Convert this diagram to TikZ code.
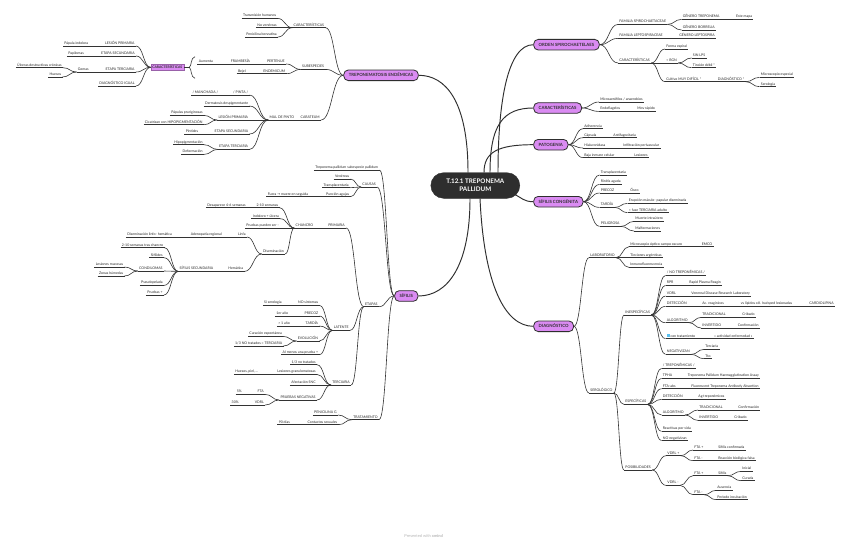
\documentclass[tikz,border=0pt]{standalone}
\usepackage{fontspec}
\setmainfont{Lato}
\newfontfamily\symfont{DejaVu Sans}
\usetikzlibrary{calc}
\definecolor{txt}{HTML}{262626}
\definecolor{lnc}{HTML}{333333}
\definecolor{vio}{HTML}{DA8BF2}
\definecolor{dark}{HTML}{2E2E2E}
\definecolor{iconblue}{HTML}{5BC0F0}
\definecolor{wm}{HTML}{B5B5B5}
\newcommand\leaffont{\fontsize{3.5}{4.1}\selectfont}
\newcommand\rn[4]{\node[leaf,anchor=south west] (#1) at (#2,#3) {#4}; \draw[ul] (#1.south west) -- (#1.south east);}
\newcommand\lnn[4]{\node[leaf,anchor=south east] (#1) at (#2,#3) {#4}; \draw[ul] (#1.south west) -- (#1.south east);}
\newcommand\cn[2]{\draw[ul] let \p1=(#1), \p2=(#2), \p3=($(\p1)!0.5!(\p2)$) in (\p1) .. controls (\x3,\y1) and (\x3,\y2) .. (\p2);}
\newcommand\cR[2]{\cn{#1.south east}{#2.south west}}
\newcommand\cL[2]{\cn{#1.south west}{#2.south east}}
\tikzset{
 leaf/.style={font=\leaffont, text=txt, inner xsep=1.2pt, inner ysep=0.5pt, text height=2.6pt, text depth=0.8pt},
 ul/.style={draw=lnc, line width=0.6pt},
 mainln/.style={draw=dark, line width=0.95pt},
 topic/.style={draw=dark, line width=0.8pt, fill=vio, rounded corners=4.5pt, font=\fontsize{4.3}{5}\selectfont\bfseries, text=dark, inner xsep=5pt, inner ysep=0pt, text height=3.2pt, text depth=0pt, minimum height=10.6pt},
 hub/.style={fill=dark, draw=dark, text=white, rounded corners=12.8pt, minimum width=89pt, minimum height=25.6pt, font=\fontsize{6.3}{7.6}\selectfont\bfseries, align=center},
 summ/.style={fill=vio, draw=vio!70!black, line width=0.3pt, font=\fontsize{3.4}{4}\selectfont\bfseries, text=dark, inner xsep=1.5pt, inner ysep=0.8pt, minimum height=6pt},
}
\begin{document}
\begin{tikzpicture}[x=1pt,y=-1pt]
\fill[white] (0,0) rectangle (848,543);
\useasboundingbox (0,0) rectangle (848,543);

% centre and main topics
\node[hub] (C) at (475.3,185.5) {T.12.1 TREPONEMA\\PALLIDUM};
\node[topic,anchor=west] (O) at (533.3,44.7) {ORDEN SPIROCHAETELAES};
\node[topic,anchor=west] (K) at (533.3,108) {CARACTERÍSTICAS};
\node[topic,anchor=west] (P) at (533.3,144.7) {PATOGENIA};
\node[topic,anchor=west] (SC) at (533.3,201.7) {SÍFILIS CONGÉNITA};
\node[topic,anchor=west] (D) at (533.3,326.3) {DIAGNÓSTICO};
\node[topic,anchor=east] (T) at (418.7,75.3) {TREPONEMATOSIS ENDÉMICAS};
\node[topic,anchor=east] (S) at (418.3,296) {SÍFILIS};

\draw[mainln] ([xshift=22.7pt]C.north) .. controls (498,100) and (508,44.7) .. (O.west);
\draw[mainln] ([xshift=14.7pt]C.north) .. controls (490,125) and (503,108) .. (K.west);
\draw[mainln] ([xshift=8.7pt]C.north) .. controls (484,152) and (498,144.7) .. (P.west);
\draw[mainln] ([xshift=-5.8pt,yshift=4.3pt]C.south east) .. controls (522,198) and (524,201.7) .. (SC.west);
\draw[mainln] ([xshift=4.7pt]C.south) .. controls (484,285) and (505,326.3) .. (D.west);
\draw[mainln] ([xshift=-7.3pt]C.north) .. controls (468,100) and (445,75.3) .. (T.east);
\draw[mainln] ([xshift=-5.3pt]C.south) .. controls (470,265) and (448,296) .. (S.east);

% ORDEN
\rn{o1}{618}{24.4}{FAMILIA SPIROCHAETACEAE}
\rn{o11}{681.5}{19.4}{GÉNERO TREPONEMA}
\rn{o111}{734.8}{19.4}{Este mapa}
\rn{o12}{681.5}{30}{GÉNERO BORRELIA}
\rn{o2}{618}{38.4}{FAMILIA LEPTOSPIRACEAE}
\rn{o21}{678}{38.4}{GÉNERO LEPTOSPIRA}
\rn{o3}{618}{63}{CARACTERÍSTICAS}
\rn{o31}{665}{49}{Forma espiral}
\rn{o32}{665}{63}{≈ BGN}
\rn{o321}{691.5}{58}{SIN LPS}
\rn{o322}{691.5}{67.7}{Tinción débil *}
\rn{o33}{665}{81.7}{Cultivo MUY DIFÍCIL *}
\rn{o331}{716.5}{81.7}{DIAGNÓSTICO *}
\rn{o3311}{759.5}{77.4}{Microscopio especial}
\rn{o3312}{759.5}{86.7}{Serología}
\cn{O.east}{o1.south west} \cn{O.east}{o2.south west} \cn{O.east}{o3.south west}
\cR{o1}{o11} \cR{o11}{o111} \cR{o1}{o12} \cR{o2}{o21}
\cR{o3}{o31} \cR{o3}{o32} \cR{o32}{o321} \cR{o32}{o322} \cR{o3}{o33}
\cR{o33}{o331} \cR{o331}{o3311} \cR{o331}{o3312}

% CARACTERISTICAS
\rn{k1}{599}{102}{Microaerófilos / anaerobios}
\rn{k2}{599}{111.4}{Endoflagelos}
\rn{k21}{636}{111.4}{Mov rápido}
\cn{K.east}{k1.south west} \cn{K.east}{k2.south west} \cR{k2}{k21}

% PATOGENIA
\rn{p1}{583}{128.7}{Adherencia}
\rn{p2}{583}{137.7}{Cápsula}
\rn{p21}{612}{137.7}{Antifagocitaria}
\rn{p3}{583}{148}{Hialuronidasa}
\rn{p31}{622}{148}{Infiltración perivascular}
\rn{p4}{583}{157.7}{Baja inmune celular}
\rn{p41}{633}{157.7}{Lesiones}
\cn{P.east}{p1.south west} \cn{P.east}{p2.south west} \cn{P.east}{p3.south west} \cn{P.east}{p4.south west}
\cR{p2}{p21} \cR{p3}{p31} \cR{p4}{p41}

% SIFILIS CONGENITA
\rn{s1}{599.5}{175}{Transplacentaria}
\rn{s2}{599.5}{184.4}{Rinitis aguda}
\rn{s3}{599.5}{193}{PRECOZ}
\rn{s31}{629}{193}{Óseo}
\rn{s4}{599.5}{207.4}{TARDÍA}
\rn{s41}{627.5}{203.4}{Erupción máculo- papular diseminada}
\rn{s42}{627.5}{212.7}{≈ fase TERCIARIA adulto}
\rn{s5}{599.5}{226.4}{PELIGROSA}
\rn{s51}{634}{221.4}{Muerte intraútero}
\rn{s52}{634}{231}{Malformaciones}
\cn{SC.east}{s1.south west} \cn{SC.east}{s2.south west} \cn{SC.east}{s3.south west}
\cn{SC.east}{s4.south west} \cn{SC.east}{s5.south west}
\cR{s3}{s31} \cR{s4}{s41} \cR{s4}{s42} \cR{s5}{s51} \cR{s5}{s52}

% DIAGNOSTICO
\rn{d1}{589}{257.7}{LABORATORIO}
\rn{d11}{629}{246.7}{Microscopio óptico campo oscuro}
\rn{d111}{700.5}{246.7}{EMCO}
\rn{d12}{629}{257.7}{Tinciones argénticas}
\rn{d13}{629}{267.4}{Inmunofluorescencia}
\rn{d2}{589}{393}{SEROLÓGICO}
\rn{d21}{624}{315}{INESPECÍFICAS}
\rn{a1}{665.5}{275.4}{/ NO TREPONÉMICAS /}
\rn{a2}{665.5}{285.4}{RPR}
\rn{a21}{688}{285.4}{Rapid Plasma Reagin}
\rn{a3}{665.5}{296}{VDRL}
\rn{a31}{690}{296}{Venereal Disease Research Laboratory}
\rn{a4}{665.5}{306.4}{DETECCIÓN}
\rn{a41}{701}{306.4}{Ac. reagínicos}
\rn{a42}{739.5}{306.4}{vs lípidos cél. huésped lesionadas}
\rn{a43}{808}{306.4}{CARDIOLIPINA}
\rn{a5}{665.5}{322.7}{ALGORITMO}
\rn{a51}{701}{317.4}{TRADICIONAL}
\rn{a511}{741}{317.4}{Cribado}
\rn{a52}{701}{328}{INVERTIDO}
\rn{a521}{736.5}{328}{Confirmación}
\rn{a6}{665.5}{338.7}{{\color{iconblue}\rule{2.8pt}{2.8pt}} con tratamiento}
\rn{a61}{713}{338.7}{« actividad enfermedad »}
\rn{a7}{665.5}{354.4}{NEGATIVIZAN}
\rn{a71}{704}{349.4}{Terciaria}
\rn{a72}{704}{358.7}{Tto}
\rn{d22}{624}{404.4}{ESPECÍFICAS}
\rn{b1}{661.5}{368.4}{/ TREPONÉMICAS /}
\rn{b2}{661.5}{378.4}{TPHA}
\rn{b21}{686.5}{378.4}{Treponema Pallidum Haemagglutination Assay}
\rn{b3}{661.5}{388.7}{FTA-abs}
\rn{b31}{690}{388.7}{Fluorescent Treponema Antibody Absortion}
\rn{b4}{661.5}{399.4}{DETECCIÓN}
\rn{b41}{697}{399.4}{Ag treponémicos}
\rn{b5}{661.5}{415}{ALGORITMO}
\rn{b51}{698}{410}{TRADICIONAL}
\rn{b511}{737}{410}{Confirmación}
\rn{b52}{698}{420.4}{INVERTIDO}
\rn{b521}{733}{420.4}{Cribado}
\rn{b6}{661.5}{431.4}{Reactivas por vida}
\rn{b7}{661.5}{440.7}{NO negativizan}
\rn{d23}{624}{470}{POSIBILIDADES}
\rn{c1}{666}{455.7}{VDRL +}
\rn{c11}{693}{450}{FTA +}
\rn{c111}{717}{450}{Sífilis confirmada}
\rn{c12}{693}{460.7}{FTA -}
\rn{c121}{717}{460.7}{Reacción biológica falsa}
\rn{c2}{666}{485.4}{VDRL -}
\rn{c21}{693}{475.7}{FTA +}
\rn{c211}{717}{475.7}{Sífilis}
\rn{c2111}{741}{471.4}{Inicial}
\rn{c2112}{741}{480.7}{Curada}
\rn{c22}{693}{494.7}{FTA -}
\rn{c221}{716}{490.4}{Ausencia}
\rn{c222}{716}{499.7}{Periodo incubación}
\cn{D.east}{d1.south west} \cn{D.east}{d2.south west}
\cR{d1}{d11} \cR{d11}{d111} \cR{d1}{d12} \cR{d1}{d13}
\cR{d2}{d21} \cR{d2}{d22} \cR{d2}{d23}
\cR{d21}{a1} \cR{d21}{a2} \cR{d21}{a3} \cR{d21}{a4} \cR{d21}{a5} \cR{d21}{a6} \cR{d21}{a7}
\cR{a2}{a21} \cR{a3}{a31} \cR{a4}{a41} \cR{a41}{a42} \cR{a42}{a43}
\cR{a5}{a51} \cR{a51}{a511} \cR{a5}{a52} \cR{a52}{a521} \cR{a6}{a61} \cR{a7}{a71} \cR{a7}{a72}
\cR{d22}{b1} \cR{d22}{b2} \cR{d22}{b3} \cR{d22}{b4} \cR{d22}{b5} \cR{d22}{b6} \cR{d22}{b7}
\cR{b2}{b21} \cR{b3}{b31} \cR{b4}{b41} \cR{b5}{b51} \cR{b51}{b511} \cR{b5}{b52} \cR{b52}{b521}
\cR{d23}{c1} \cR{d23}{c2} \cR{c1}{c11} \cR{c11}{c111} \cR{c1}{c12} \cR{c12}{c121}
\cR{c2}{c21} \cR{c21}{c211} \cR{c211}{c2111} \cR{c211}{c2112} \cR{c2}{c22} \cR{c22}{c221} \cR{c22}{c222}

% TREPONEMATOSIS ENDEMICAS
\lnn{t1}{325.5}{27.7}{CARACTERÍSTICAS}
\lnn{t11}{277.5}{18.4}{Transmisión humanos}
\lnn{t12}{278}{27.7}{No venéreas}
\lnn{t13}{278}{37}{Penicilina benzatina}
\lnn{t2}{325.5}{69.4}{SUBESPECIES}
\lnn{t21}{286}{64}{PERTENUE}
\lnn{t211}{251.5}{64}{FRAMBESÍA}
\lnn{t2111}{214.2}{64}{Aumenta}
\lnn{t22}{286.5}{73.7}{ENDEMICUM}
\lnn{t221}{247}{73.7}{Bejel}
\lnn{t3}{321}{120}{CARATEUM}
\lnn{t31}{295.5}{120}{MAL DE PINTO}
\lnn{t311}{249.5}{95}{/ PINTA /}
\lnn{t3111}{219.5}{95}{/ MANCHADA /}
\lnn{t312}{249.5}{106}{Dermatosis despigmentante}
\lnn{t313}{249.5}{120}{LESIÓN PRIMARIA}
\lnn{t3131}{204}{115.4}{Pápulas pruriginosas}
\lnn{t3132}{204}{124.7}{Cicatrizan con HIPOPIGMENTACIÓN}
\lnn{t314}{249.5}{134}{ETAPA SECUNDARIA}
\lnn{t3141}{199.5}{134}{Píntides}
\lnn{t315}{249.5}{149.4}{ETAPA TERCIARIA}
\lnn{t3151}{204}{144.7}{Hipopigmentación}
\lnn{t3152}{204}{154.4}{Deformación}
\cn{T.west}{t1.south east} \cn{T.west}{t2.south east} \cn{T.west}{t3.south east}
\cL{t1}{t11} \cL{t1}{t12} \cL{t1}{t13}
\cL{t2}{t21} \cL{t21}{t211} \cL{t211}{t2111} \cL{t2}{t22} \cL{t22}{t221}
\cL{t3}{t31} \cL{t31}{t311} \cL{t311}{t3111} \cL{t31}{t312} \cL{t31}{t313}
\cL{t313}{t3131} \cL{t313}{t3132} \cL{t31}{t314} \cL{t314}{t3141}
\cL{t31}{t315} \cL{t315}{t3151} \cL{t315}{t3152}

% summary bracket and its topic
\draw[ul] (195,56.7) .. controls (190.5,57.5) and (191.8,66) .. (189.3,67.3) .. controls (191.8,68.6) and (190.5,77.5) .. (195,78.3);
\coordinate (bt) at (189.3,67.3);
\node[summ] (sm) at (167.3,67.3) {CARACTERÍSTICAS};
\draw[ul] (sm.east) -- (bt);
\lnn{e1}{136}{46}{LESIÓN PRIMARIA}
\lnn{e11}{89.5}{46}{Pápula indolora}
\lnn{e2}{136}{56}{ETAPA SECUNDARIA}
\lnn{e21}{85.2}{56}{Papilomas}
\lnn{e3}{136}{72}{ETAPA TERCIARIA}
\lnn{e31}{90}{72}{Gomas}
\lnn{e311}{63}{67.7}{Úlceras destructivas crónicas}
\lnn{e312}{62.5}{77}{Huesos}
\lnn{e4}{136}{86}{DIAGNÓSTICO IGUAL}
\cn{sm.west}{e1.south east} \cn{sm.west}{e2.south east} \cn{sm.west}{e3.south east} \cn{sm.west}{e4.south east}
\cL{e1}{e11} \cL{e2}{e21} \cL{e3}{e31} \cL{e31}{e311} \cL{e31}{e312}

% SIFILIS
\lnn{f0}{379.5}{170}{Treponema pallidum subespecie pallidum}
\lnn{f1}{377.2}{187}{CAUSAS}
\lnn{f11}{350.5}{179}{Venéreas}
\lnn{f12}{350}{187.7}{Transplacentaria}
\lnn{f13}{350.5}{196.7}{Punción agujas}
\lnn{f131}{309.5}{196.7}{Fuera {\symfont →} muere en seguida}
\lnn{f2}{379}{306.7}{ETAPAS}
\lnn{f21}{346.2}{228}{PRIMARIA}
\lnn{f211}{314.5}{228}{CHANCRO}
\lnn{f2111}{279.5}{207.7}{2-10 semanas}
\lnn{f21111}{247}{207.7}{Desaparece 4-6 semanas}
\lnn{f2112}{280.2}{218.7}{Indoloro + úlcera}
\lnn{f2113}{280.2}{228}{Pruebas pueden ser -}
\lnn{f2114}{285.2}{254}{Diseminación}
\lnn{f21141}{247}{237}{Linfa}
\lnn{f211411}{223}{237}{Adenopatía regional}
\lnn{f2114111}{173.2}{237}{Diseminación linfo- hemática}
\lnn{f21142}{244.5}{271.4}{Hemática}
\lnn{f211421}{214.5}{271.4}{SÍFILIS SECUNDARIA}
\lnn{g1}{164.5}{247.7}{2-10 semanas tras chancro}
\lnn{g2}{164}{257.7}{Sifílides}
\lnn{g3}{164}{271}{CONDILOMAS}
\lnn{g31}{124.5}{267}{Lesiones mucosas}
\lnn{g32}{124.5}{276}{Zonas húmedas}
\lnn{g4}{164}{285.4}{Pseudopelada}
\lnn{g5}{164}{295}{Pruebas +}
\lnn{f22}{350}{330.4}{LATENTE}
\lnn{h1}{319.5}{305.4}{NO síntomas}
\lnn{h11}{283}{305.4}{Sí serología}
\lnn{h2}{319.5}{316}{PRECOZ}
\lnn{h21}{289.5}{316}{1er año}
\lnn{h3}{319.5}{326}{TARDÍA}
\lnn{h31}{291.2}{326}{> 1 año}
\lnn{h4}{319.5}{341}{EVOLUCIÓN}
\lnn{h41}{283.2}{336.4}{Curación espontánea}
\lnn{h42}{283.5}{346}{1/3 NO tratados = TERCIARIA}
\lnn{h5}{319.5}{354.7}{Al menos una prueba +}
\lnn{f23}{351.2}{385}{TERCIARIA}
\lnn{i1}{317}{364.7}{1/3 no tratados}
\lnn{i2}{317}{374.4}{Lesiones granulomatosas}
\lnn{i21}{259.5}{374.4}{Huesos, piel, ...}
\lnn{i3}{317}{385}{Afectación SNC}
\lnn{i4}{317}{400}{PRUEBAS NEGATIVAS}
\lnn{i41}{265.2}{394.4}{FTA}
\lnn{i411}{243.2}{394.4}{5\%}
\lnn{i42}{265.2}{405}{VDRL}
\lnn{i421}{240}{405}{30\%}
\lnn{f3}{379}{419.7}{TRATAMIENTO}
\lnn{j1}{338}{415}{PENICILINA G}
\lnn{j2}{338.5}{424.7}{Contactos sexuales}
\lnn{j21}{291.2}{424.7}{90 días}
\cn{S.west}{f0.south east} \cn{S.west}{f1.south east} \cn{S.west}{f2.south east} \cn{S.west}{f3.south east}
\cL{f1}{f11} \cL{f1}{f12} \cL{f1}{f13} \cL{f13}{f131}
\cL{f2}{f21} \cL{f2}{f22} \cL{f2}{f23}
\cL{f21}{f211} \cL{f211}{f2111} \cL{f2111}{f21111} \cL{f211}{f2112} \cL{f211}{f2113} \cL{f211}{f2114}
\cL{f2114}{f21141} \cL{f21141}{f211411} \cL{f211411}{f2114111}
\cL{f2114}{f21142} \cL{f21142}{f211421}
\cL{f211421}{g1} \cL{f211421}{g2} \cL{f211421}{g3} \cL{f211421}{g4} \cL{f211421}{g5}
\cL{g3}{g31} \cL{g3}{g32}
\cL{f22}{h1} \cL{h1}{h11} \cL{f22}{h2} \cL{h2}{h21} \cL{f22}{h3} \cL{h3}{h31}
\cL{f22}{h4} \cL{h4}{h41} \cL{h4}{h42} \cL{f22}{h5}
\cL{f23}{i1} \cL{f23}{i2} \cL{i2}{i21} \cL{f23}{i3} \cL{f23}{i4}
\cL{i4}{i41} \cL{i41}{i411} \cL{i4}{i42} \cL{i42}{i421}
\cL{f3}{j1} \cL{f3}{j2} \cL{j2}{j21}

% watermark
\node[font=\fontsize{4}{5}\selectfont, text=wm] (wmk) at (423.7,535.7) {Presented with \textbf{xmind}};
\end{tikzpicture}
\end{document}
